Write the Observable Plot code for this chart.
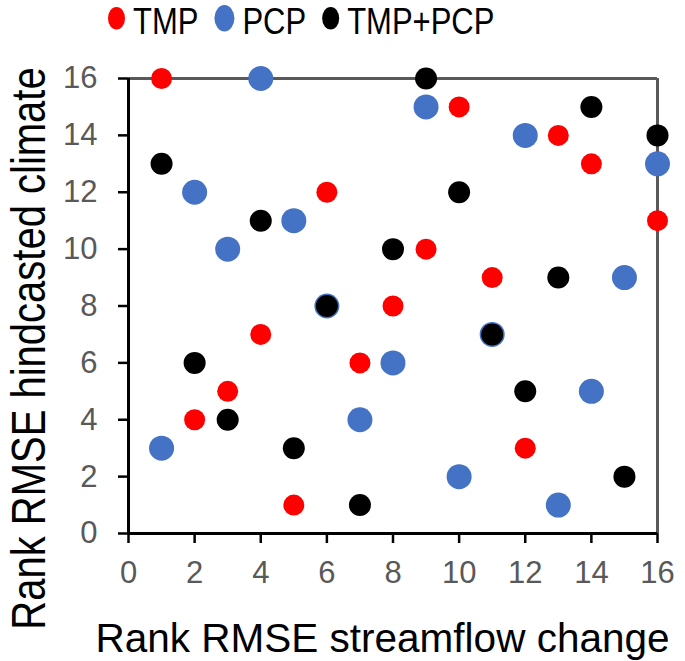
<!DOCTYPE html>
<html>
<head>
<meta charset="utf-8">
<script src="https://cdn.jsdelivr.net/npm/d3@7"></script>
<script src="https://cdn.jsdelivr.net/npm/@observablehq/plot@0.6"></script>
<style>
  body { margin: 0; background: #fff; font-family: "Liberation Sans", Arial, sans-serif; }
  #legend, #chart { display: block; }
</style>
</head>
<body>
<svg id="legend" width="685" height="40"></svg>
<div id="chart"></div>
<script>
// ---- data ----
const series = ["TMP", "PCP", "TMP+PCP"];
const seriesColors = ["#FF0000", "#4472C4", "#000000"];

const tmpX = [1, 10, 13, 14, 6, 16, 9, 11, 8, 4, 7, 3, 2, 12, 15, 5];
const tmpY = [16, 15, 14, 13, 12, 11, 10, 9, 8, 7, 6, 5, 4, 3, 2, 1];

const pcpX = [4, 9, 12, 16, 2, 5, 3, 15, 6, 11, 8, 14, 7, 1, 10, 13];
const pcpY = [16, 15, 14, 13, 12, 11, 10, 9, 8, 7, 6, 5, 4, 3, 2, 1];

const bothX = [9, 14, 16, 1, 10, 4, 8, 13, 6, 11, 2, 12, 3, 5, 15, 7];
const bothY = [16, 15, 14, 13, 12, 11, 10, 9, 8, 7, 6, 5, 4, 3, 2, 1];

const xTicks = [0, 2, 4, 6, 8, 10, 12, 14, 16];
const yTicks = [0, 2, 4, 6, 8, 10, 12, 14, 16];
const xDomain = [0, 16];
const yDomain = [0, 16];
const xLabel = "Rank RMSE streamflow change";
const yLabel = "Rank RMSE hindcasted climate";

// ---- build tables ----
const toRows = (xs, ys, s) => xs.map((x, i) => ({x, y: ys[i], series: s}));
const tmp = toRows(tmpX, tmpY, series[0]);
const pcp = toRows(pcpX, pcpY, series[1]);
const both = toRows(bothX, bothY, series[2]);

const font = '"Liberation Sans", Arial, sans-serif';
const frameGray = "#595959";

// ---- legend ----
const legend = d3.select("#legend");
const lg = legend.append("g").attr("transform", "scale(1,1.2)");
const radii = [8.5, 10, 8.5];
let cx = 108;
series.forEach((s, i) => {
  const r = radii[i];
  lg.append("ellipse").attr("cx", cx + r).attr("cy", 15.2).attr("rx", r).attr("ry", r * 1.1).attr("fill", seriesColors[i]);
  cx += 2 * r + 8;
  const t = lg.append("text").attr("x", cx).attr("y", 28.2)
    .attr("font-size", 31).attr("font-family", font).attr("fill", "#000").text(s);
  cx += t.node().getComputedTextLength() + 16;
});

// ---- plot ----
const chart = Plot.plot({
  width: 685,
  height: 621,
  marginTop: 38,
  marginBottom: 128,
  marginLeft: 128,
  marginRight: 28,
  x: {domain: xDomain, label: null},
  y: {domain: yDomain, label: null},
  style: {fontFamily: font, fontSize: "31px", background: "white", color: "black"},
  marks: [
    Plot.ruleY([yDomain[1]], {stroke: frameGray, strokeWidth: 3}),
    Plot.ruleX([xDomain[1]], {stroke: frameGray, strokeWidth: 3}),
    Plot.ruleX([xDomain[0]], {stroke: "black", strokeWidth: 3}),
    Plot.ruleY([yDomain[0]], {stroke: "black", strokeWidth: 3}),
    Plot.axisX({ticks: xTicks, tickSize: 10, tickPadding: 17, stroke: "black", strokeWidth: 2.5,
                fill: frameGray, fontSize: 31, label: null}),
    Plot.axisY({ticks: yTicks, tickSize: 10, tickPadding: 21, stroke: "black", strokeWidth: 2.5,
                fill: frameGray, fontSize: 31, label: null}),
    Plot.dot(tmp, {x: "x", y: "y", r: 10.5, fill: seriesColors[0]}),
    Plot.dot(pcp, {x: "x", y: "y", r: 12.5, fill: seriesColors[1]}),
    Plot.dot(both, {x: "x", y: "y", r: 11, fill: seriesColors[2]}),
    Plot.text([xLabel], {frameAnchor: "bottom", textAnchor: "middle", dx: -10.5, dy: 105.5, fontSize: 40.5, fill: "black", lineAnchor: "middle"}),
    Plot.text([yLabel], {frameAnchor: "left", textAnchor: "middle", rotate: -90, dx: -98.5, dy: 42.5, fontSize: 40, fill: "black", lineAnchor: "middle"})
  ]
});
document.getElementById("chart").appendChild(chart);

// stretch the y label glyphs to match the reference
d3.select(chart).selectAll("text").filter(function() { return this.textContent === yLabel; })
  .attr("transform", function() { return (this.getAttribute("transform") || "") + " scale(1,1.2)"; });
</script>
</body>
</html>
